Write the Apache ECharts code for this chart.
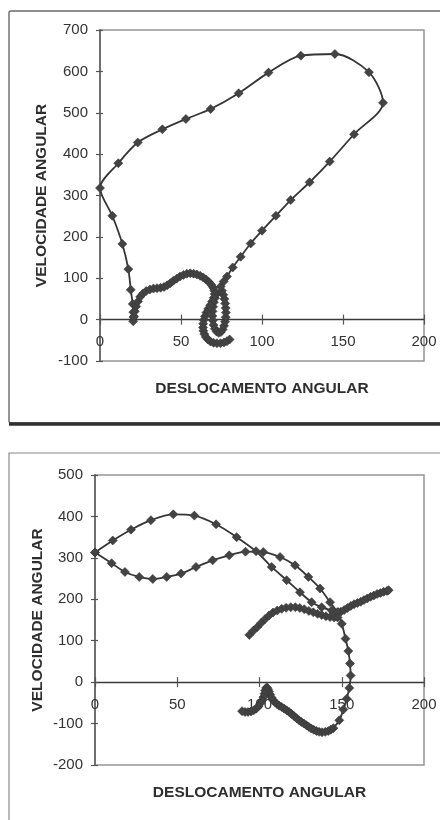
<!DOCTYPE html>
<html>
<head>
<meta charset="utf-8">
<title>Velocidade x Deslocamento Angular</title>
<script src="https://cdn.jsdelivr.net/npm/echarts@6/dist/echarts.min.js"></script>
<style>
  html, body { margin: 0; padding: 0; background: #ffffff; }
  #chart { width: 440px; height: 820px; }
</style>
</head>
<body>
<div id="chart"></div>
<script>
// Axis ticks
const xTicks = [0, 50, 100, 150, 200];
const yTicksTop = [-100, 0, 100, 200, 300, 400, 500, 600, 700];
const yTicksBottom = [-200, -100, 0, 100, 200, 300, 400, 500];

// Upper phase plot: one continuous trajectory (angular displacement, angular velocity)
const topDisp = [72, 71, 70.3, 69.8, 69.5, 69.4, 69.6, 70.1, 70.9, 72, 73.3, 74.6, 75.7, 76.6, 77.2, 77.6, 77.7, 77.6, 77.3, 76.8, 76.1, 75.3, 74.5,
  76.3, 78.4, 81.9, 86.8, 93, 100, 108.6, 117.7, 129.4, 141.8, 156.8, 174.7,
  166, 145, 124, 104, 85.6, 68.3, 53, 38.5, 23.3, 11.3, 0,
  7.6, 13.8, 17.5, 19, 20.2, 20.6, 20.7, 20.5,
  21, 21.5, 22.3, 23.4, 24.8, 26.5, 28.5, 30.8, 33, 35.2, 37.4, 39.5, 41.5, 43.4, 45.3, 47.3, 49.4, 51.5, 53.6, 55.7, 57.8, 59.8, 61.8, 63.7, 65.5, 67.2, 68.7, 69.9, 70.6, 70.8,
  70.2, 69.2, 68, 66.8, 65.7, 64.8, 64.1, 63.7, 63.6, 63.8, 64.4, 65.3, 66.6, 68.2, 70.1, 72.2, 74.4, 76.5, 78.4, 80];
const topVel = [62, 52, 42, 31, 20, 9, -2, -13, -22, -29, -32, -30, -24, -15, -5, 6, 17, 28, 39, 50, 60, 70, 80,
  92, 104, 126, 152, 184, 215, 251, 289, 332, 382, 448, 524,
  598, 642, 638, 597, 547, 509, 485, 460, 428, 378, 318,
  251, 183, 122, 72, 38, 18, 6, -4,
  8, 20, 32, 44, 55, 63, 69, 73, 75, 76, 77, 79, 83, 88, 94, 99, 104, 108, 111, 112, 111, 109, 106, 102, 97, 91, 84, 77, 70, 62,
  53, 44, 35, 26, 17, 8, -1, -10, -19, -27, -35, -42, -48, -53, -56, -57, -57, -55, -52, -48];

// Lower phase plot: three trajectory pieces
const dispA = [0, 10.8, 21.9, 34, 47.6, 60.4, 73.6, 86.1, 97.9, 107.4, 116.5, 124.6, 131.7, 137.8, 143.9, 147.9,
  149.5, 151.5, 153.5, 155.5, 157.5, 159.5, 161.5, 163.5, 165.5, 167.5, 169.5, 171.5, 173.5, 175.5, 177.5, 178.5];
const velA = [313, 342, 368, 391, 405, 402, 381, 350, 316, 278, 246, 217, 193, 181, 173, 169,
  170, 174, 179, 184, 188, 191, 194, 198, 202, 206, 209, 213, 215, 218, 220, 222];

const dispB = [0, 10.1, 18.2, 26.9, 35.1, 43.6, 52.3, 61.4, 71.5, 81.6, 91.5, 102.3, 112.5, 121.6, 129.7, 136.8, 142.9, 147.3,
  150, 152.3, 154, 155, 155.4, 154.6, 153, 151, 148.5, 144.9,
  143.3, 141.8, 140, 138, 136.2, 134.6, 133, 131.5, 130, 128.5, 127, 125.5, 124, 122.5, 121, 119.5, 118, 116.5, 115, 113.5,
  112, 110.6, 109.3, 108.2, 107.3, 106.5, 105.8, 105.2, 104.6, 104, 103.5, 103, 102.4, 101.6, 100.6, 99.4, 98, 96.5, 94.8, 93, 91.2, 89.4];
const velB = [313, 287, 266, 254, 249, 254, 262, 278, 294, 306, 315, 314, 302, 282, 254, 226, 193, 169,
  141, 105, 75, 45, 16, -14, -40, -66, -92, -111,
  -115, -118, -120, -121, -120, -118, -115, -112, -108, -104, -100, -96, -92, -87, -82, -77, -72, -68, -64, -60,
  -57, -53, -48, -43, -37, -30, -23, -17, -13, -14, -20, -28, -36, -44, -51, -58, -64, -68, -71, -72, -72, -70];

const dispC = [93.8, 96.2, 98.7, 101, 103.3, 105.8, 108.2, 110.8, 113.5, 116.2, 119, 121.8, 124.5, 127.2, 130, 132.7, 135.3, 137.8, 140.4, 142.9, 145.4, 147.5];
const velC = [114, 124, 133, 143, 152, 161, 168, 173, 177, 179.5, 181, 181, 179, 176, 172, 168.5, 165, 162, 159, 157, 156, 156];

function pairs(xs, ys) {
  return xs.map((x, i) => [x, ys[i]]);
}

const FONT = "'Liberation Sans', Arial, Helvetica, sans-serif";
const INK = '#333333';

const grids = [
  { left: 100, top: 30, width: 324, height: 331 },
  { left: 95, top: 475, width: 329, height: 290 }
];

function tickSpec(ticks) {
  return { min: ticks[0], max: ticks[ticks.length - 1], interval: ticks[1] - ticks[0] };
}
// Distance (px) from the bottom edge of a grid up to its y = 0 line
function zeroLift(grid, ticks) {
  const lo = ticks[0], hi = ticks[ticks.length - 1];
  return grid.height * (0 - lo) / (hi - lo);
}

// x axis drawn along y = 0: line, outward ticks and labels
function zeroX(gridIndex, yTicks) {
  return Object.assign({
    gridIndex, type: 'value', position: 'bottom',
    offset: -zeroLift(grids[gridIndex], yTicks),
    axisLine: { onZero: false, show: true, lineStyle: { color: '#3a3a3a', width: 1.4 } },
    axisTick: { show: true, length: 5, lineStyle: { color: '#555', width: 1.2 } },
    axisLabel: { margin: 15, fontFamily: FONT, fontSize: 15, color: INK },
    splitLine: { show: false }
  }, tickSpec(xTicks));
}
// same line, ticks pointing into the plot so they cross the axis
function zeroXInner(gridIndex, yTicks) {
  return Object.assign({
    gridIndex, type: 'value', position: 'bottom',
    offset: -zeroLift(grids[gridIndex], yTicks),
    axisLine: { onZero: false, show: false },
    axisTick: { show: true, inside: true, length: 5, lineStyle: { color: '#555', width: 1.2 } },
    axisLabel: { show: false }, splitLine: { show: false }
  }, tickSpec(xTicks));
}
// carries the x axis title under the plot
function titleX(gridIndex) {
  return Object.assign({
    gridIndex, type: 'value', position: 'bottom', offset: 0,
    name: 'DESLOCAMENTO ANGULAR', nameLocation: 'middle', nameGap: 20, nameMoveOverlap: false,
    nameTextStyle: { fontFamily: FONT, fontSize: 15.5, fontWeight: 'bold', color: '#2e2e2e' },
    axisLine: { onZero: false, show: false },
    axisTick: { show: false }, axisLabel: { show: false }, splitLine: { show: false }
  }, tickSpec(xTicks));
}
function mainY(gridIndex, ticks, nameGap) {
  return Object.assign({
    gridIndex, type: 'value', position: 'left',
    name: 'VELOCIDADE ANGULAR', nameLocation: 'middle', nameGap, nameMoveOverlap: false,
    nameTextStyle: { fontFamily: FONT, fontSize: 15.5, fontWeight: 'bold', color: '#2e2e2e' },
    axisLine: { onZero: false, show: true, lineStyle: { color: '#707070', width: 2 } },
    axisTick: { show: true, length: 4, lineStyle: { color: '#555', width: 1.2 } },
    axisLabel: { margin: 12, fontFamily: FONT, fontSize: 15, color: INK },
    splitLine: { show: false }
  }, tickSpec(ticks));
}
function innerY(gridIndex, ticks) {
  return Object.assign({
    gridIndex, type: 'value', position: 'left',
    axisLine: { onZero: false, show: false },
    axisTick: { show: true, inside: true, length: 3, lineStyle: { color: '#555', width: 1.2 } },
    axisLabel: { show: false }, splitLine: { show: false }
  }, tickSpec(ticks));
}

function trace(xIdx, yIdx, data) {
  return {
    type: 'line', xAxisIndex: xIdx, yAxisIndex: yIdx, data,
    smooth: 0.3, symbol: 'diamond', symbolSize: 9, showSymbol: true,
    itemStyle: { color: '#434343', borderColor: '#353535', borderWidth: 0.6 },
    lineStyle: { color: '#353535', width: 1.8 },
    emphasis: { disabled: true }, z: 3
  };
}

const chart = echarts.init(document.getElementById('chart'), null, { renderer: 'canvas' });
chart.setOption({
  animation: false,
  backgroundColor: '#ffffff',
  textStyle: { fontFamily: FONT },
  graphic: [
    { type: 'rect', shape: { x: 9, y: 11, width: 480, height: 412, r: 2 }, style: { fill: 'none', stroke: '#6a6a6a', lineWidth: 1.4 }, z: 0 },
    { type: 'line', shape: { x1: 9, y1: 424, x2: 440, y2: 424 }, style: { stroke: '#2f2f2f', lineWidth: 3.5 }, z: 0 },
    { type: 'rect', shape: { x: 9, y: 453, width: 480, height: 420 }, style: { fill: 'none', stroke: '#8a8a8a', lineWidth: 1.2 }, z: 0 }
  ],
  grid: grids.map(g => Object.assign({
    show: true, borderColor: '#959595', borderWidth: 1.5, backgroundColor: 'transparent',
    containLabel: false, outerBoundsMode: 'none'
  }, g)),
  xAxis: [
    zeroX(0, yTicksTop), zeroXInner(0, yTicksTop), titleX(0),
    zeroX(1, yTicksBottom), zeroXInner(1, yTicksBottom), titleX(1)
  ],
  yAxis: [
    mainY(0, yTicksTop, 50), innerY(0, yTicksTop),
    mainY(1, yTicksBottom, 49), innerY(1, yTicksBottom)
  ],
  series: [
    trace(0, 0, pairs(topDisp, topVel)),
    trace(3, 2, pairs(dispA, velA)),
    trace(3, 2, pairs(dispB, velB)),
    trace(3, 2, pairs(dispC, velC))
  ]
});
</script>
</body>
</html>
